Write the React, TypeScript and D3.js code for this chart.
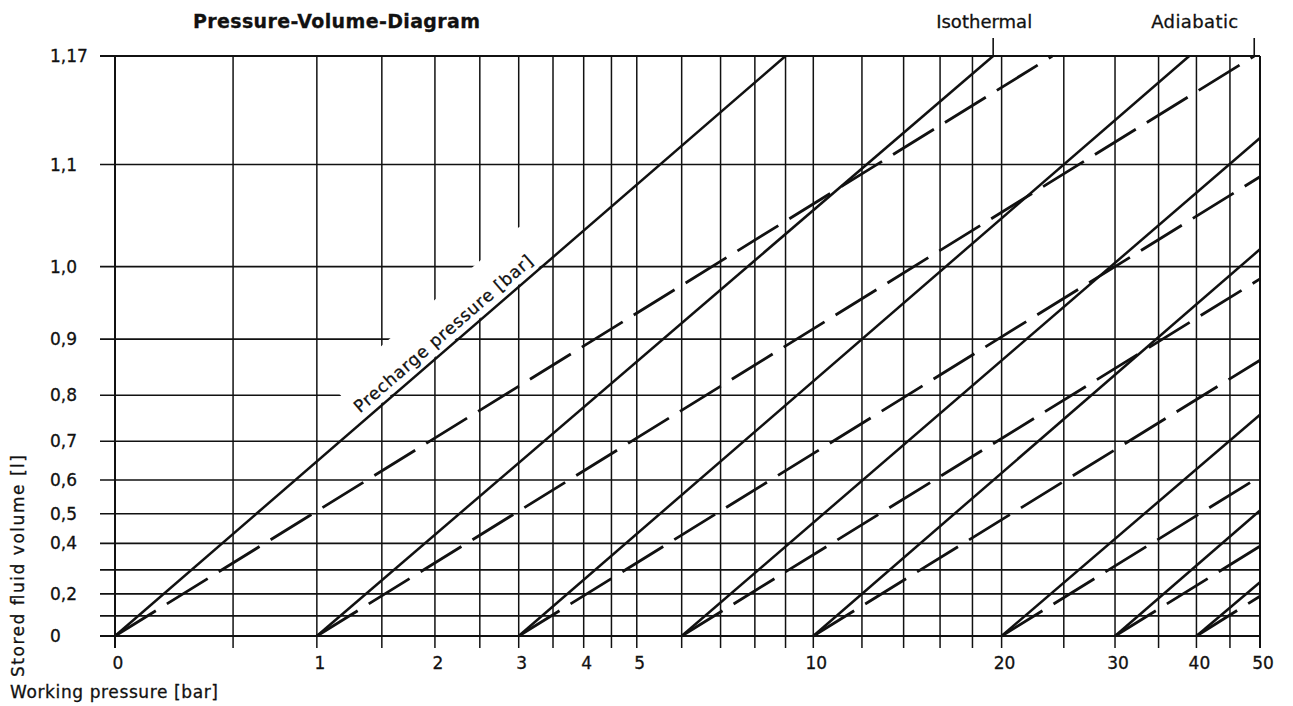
import React, { useRef, useEffect } from 'react';
import * as d3 from 'd3';

// grid of the diagram
const gridPressures = [0, 0.5, 1, 1.5, 2, 2.5, 3, 3.5, 4, 4.5, 5, 6, 7, 8, 9, 10, 12, 14, 16, 18, 20, 25, 30, 35, 40, 45, 50];
const pressureLabels = [0, 1, 2, 3, 4, 5, 10, 20, 30, 40, 50];
const gridVolumes = [0, 0.1, 0.2, 0.3, 0.4, 0.5, 0.6, 0.7, 0.8, 0.9, 1.0, 1.1, 1.17];
const volumeLabels = [0, 0.2, 0.4, 0.5, 0.6, 0.7, 0.8, 0.9, 1.0, 1.1, 1.17];
const volumeLabelText = ['0', '0,2', '0,4', '0,5', '0,6', '0,7', '0,8', '0,9', '1,0', '1,1', '1,17'];

// precharge pressure [bar] where each pair of curves starts
const precharge = [0, 1, 3, 6, 10, 20, 30, 40];
// isothermal (solid) curves: where they leave the grid
const isoEndPressure = [9, 19.4, 39, 50, 50, 50, 50, 50];
const isoEndVolume = [1.17, 1.17, 1.17, 1.12, 1.02, 0.76, 0.51, 0.25];
// adiabatic (dashed) curves: where they leave the grid
const adiEndPressure = [24, 49, 50, 50, 50, 50, 50, 50];
const adiEndVolume = [1.17, 1.17, 1.09, 0.985, 0.865, 0.61, 0.39, 0.19];

const INK = '#111';
const FONT = "'DejaVu Sans', sans-serif";

function PVDiagram() {
    const svgRef = useRef(null);

    useEffect(() => {
        const width = 1293;
        const height = 706;
        const left = 115, right = 1260, bottom = 636, top = 56;

        const svg = d3.select(svgRef.current);
        svg.selectAll('*').remove();
        svg.attr('width', width).attr('height', height);

        svg.append('rect').attr('width', width).attr('height', height).attr('fill', '#fff');

        // working pressure on a log scale of absolute pressure
        const xLog = d3.scaleLog().domain([1, 51]).range([left, right]);
        const px = (p: number) => xLog(p + 1);
        // stored volume on a log scale of remaining gas volume
        const yLog = d3.scaleLog().domain([1.3, 0.13]).range([bottom, top]);
        const py = (v: number) => yLog(1.3 - v);

        const grid = svg.append('g').attr('stroke', INK);

        grid.selectAll('.h')
            .data(gridVolumes)
            .join('line')
            .attr('x1', 100)
            .attr('x2', px(50))
            .attr('y1', d => py(d))
            .attr('y2', d => py(d))
            .attr('stroke-width', d => (d === 0 || d === 1.17 ? 2.2 : 1.6));

        grid.selectAll('.v')
            .data(gridPressures)
            .join('line')
            .attr('x1', d => px(d))
            .attr('x2', d => px(d))
            .attr('y1', py(1.17))
            .attr('y2', py(0) + 12)
            .attr('stroke-width', d => (d === 0 || d === 50 ? 2 : 1.5));

        // the label along the 0 bar line, with the grid cleared behind it
        const o = [px(precharge[0]), py(0)];
        const e = [px(isoEndPressure[0]), py(isoEndVolume[0])];
        const len = Math.hypot(e[0] - o[0], e[1] - o[1]);
        const angle = (Math.atan2(e[1] - o[1], e[0] - o[0]) * 180) / Math.PI;
        const lab = svg.append('g').attr('transform', `translate(${o[0]},${o[1]}) rotate(${angle})`);
        lab.append('rect')
            .attr('x', len * 0.37)
            .attr('y', -45)
            .attr('width', len * 0.277)
            .attr('height', 43.2)
            .attr('fill', '#fff');
        lab.append('text')
            .attr('x', len * 0.503)
            .attr('y', -8)
            .attr('text-anchor', 'middle')
            .attr('font-family', FONT)
            .attr('font-size', 17)
            .attr('fill', INK)
            .attr('stroke', INK)
            .attr('stroke-width', 0.3)
            .attr('textLength', 230)
            .text('Precharge pressure [bar]');

        const line = d3.line<[number, number]>()
            .x(d => px(d[0]))
            .y(d => py(d[1]));

        const iso = precharge.map((p0, i) => [[p0, 0], [isoEndPressure[i], isoEndVolume[i]]] as [number, number][]);
        const adi = precharge.map((p0, i) => [[p0, 0], [adiEndPressure[i], adiEndVolume[i]]] as [number, number][]);

        svg.append('g')
            .selectAll('path')
            .data(iso)
            .join('path')
            .attr('d', d => line(d))
            .attr('fill', 'none')
            .attr('stroke', INK)
            .attr('stroke-width', 2.5);

        svg.append('g')
            .selectAll('path')
            .data(adi)
            .join('path')
            .attr('d', d => line(d))
            .attr('fill', 'none')
            .attr('stroke', INK)
            .attr('stroke-width', 2.8)
            .attr('stroke-dasharray', '48,13');

        // pointers to the two curve types
        const isoX = px(isoEndPressure[1]);
        const adiX = px(adiEndPressure[1]);
        svg.append('g')
            .selectAll('line')
            .data([isoX, adiX])
            .join('line')
            .attr('x1', d => d)
            .attr('x2', d => d)
            .attr('y1', py(1.17))
            .attr('y2', py(1.17) - 18)
            .attr('stroke', INK)
            .attr('stroke-width', 1.6);

        const text = (g: any) => g.attr('font-family', FONT).attr('fill', INK)
            .attr('stroke', INK).attr('stroke-width', 0.3);

        svg.append('text').call(text)
            .attr('x', isoX - 9).attr('y', 28)
            .attr('text-anchor', 'middle')
            .attr('font-size', 18)
            .attr('textLength', 96)
            .text('Isothermal');
        svg.append('text').call(text)
            .attr('x', adiX - 16).attr('y', 28)
            .attr('text-anchor', 'end')
            .attr('font-size', 18)
            .attr('textLength', 87)
            .text('Adiabatic');

        svg.append('text').call(text)
            .attr('x', 193).attr('y', 28)
            .attr('font-size', 19)
            .attr('font-weight', 'bold')
            .attr('textLength', 287)
            .text('Pressure-Volume-Diagram');

        // tick labels
        svg.append('g').call(text)
            .attr('font-size', 17)
            .selectAll('text')
            .data(volumeLabels)
            .join('text')
            .attr('x', 50)
            .attr('y', d => py(d))
            .attr('dy', '0.36em')
            .text((d, i) => volumeLabelText[i]);

        svg.append('g').call(text)
            .attr('font-size', 17)
            .attr('text-anchor', 'middle')
            .selectAll('text')
            .data(pressureLabels)
            .join('text')
            .attr('x', d => px(d) + 3)
            .attr('y', 669)
            .text(d => d);

        svg.append('text').call(text)
            .attr('x', 10).attr('y', 698)
            .attr('font-size', 17)
            .attr('textLength', 208)
            .text('Working pressure [bar]');

        svg.append('text').call(text)
            .attr('transform', 'translate(24,566) rotate(-90)')
            .attr('text-anchor', 'middle')
            .attr('font-size', 17)
            .attr('textLength', 222)
            .text('Stored fluid volume [l]');
    }, []);

    return <svg ref={svgRef} style={{ position: 'absolute', left: 0, top: 0, display: 'block' }}></svg>;
}

export default function App() {
    return <PVDiagram />;
}
